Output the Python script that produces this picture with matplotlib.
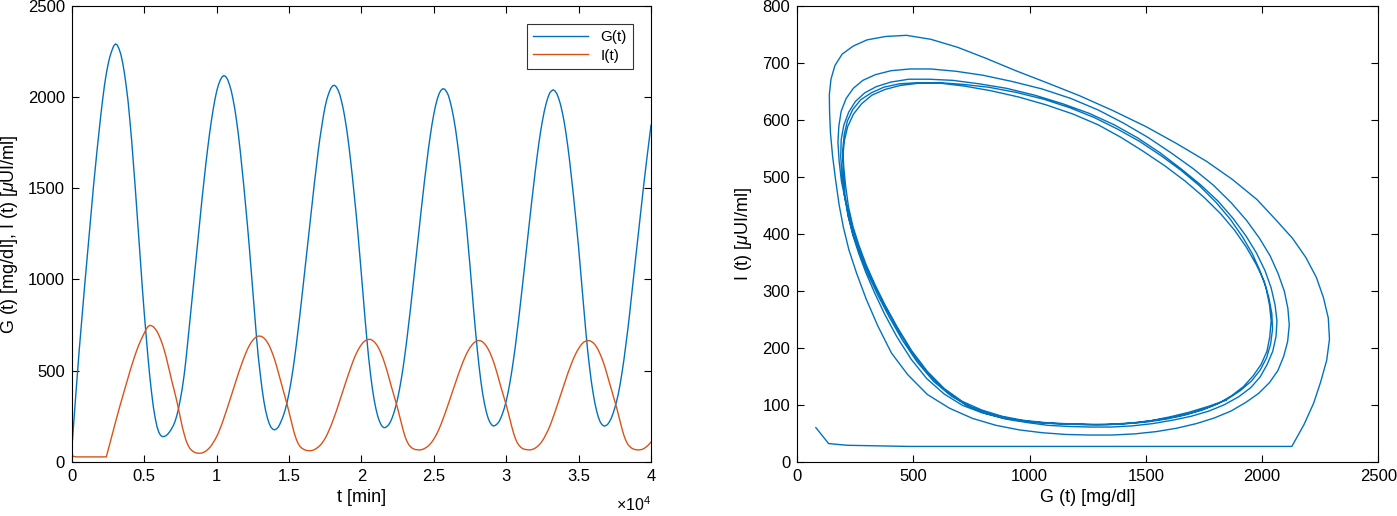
import matplotlib
matplotlib.use('Agg')
import matplotlib.pyplot as plt
from matplotlib.ticker import FuncFormatter

plt.rcParams['font.family'] = ['Liberation Sans', 'DejaVu Sans']
plt.rcParams['mathtext.fontset'] = 'custom'
plt.rcParams['mathtext.rm'] = 'Liberation Sans'
plt.rcParams['mathtext.it'] = 'Liberation Sans:italic'

# time samples [min] and values (one row = 2500 min)
t = [0, 50] + list(range(125, 40001, 125))

G = [80, 135,
     215, 350, 480, 610, 730, 850, 963, 1075, 1188, 1300, 1410, 1520, 1622, 1720, 1815, 1905, 1988, 2065, 2128, 2180,
     2222, 2252, 2278, 2290, 2285, 2264, 2234, 2189, 2131, 2058, 1978, 1873, 1761, 1633, 1500, 1358, 1215, 1073, 940, 810,
     690, 575, 470, 380, 300, 240, 193, 162, 145, 138, 139, 143, 152, 165, 180, 198, 222, 255, 297, 347,
     405, 475, 560, 655, 755, 855, 955, 1055, 1155, 1255, 1355, 1452, 1545, 1633, 1717, 1795, 1866, 1929, 1985, 2032,
     2068, 2093, 2110, 2117, 2111, 2096, 2069, 2035, 1989, 1934, 1868, 1791, 1704, 1608, 1509, 1404, 1295, 1179, 1053, 925,
     799, 682, 574, 486, 404, 336, 282, 241, 210, 189, 179, 175, 180, 190, 209, 232, 258, 290, 331, 379,
     434, 496, 566, 642, 723, 808, 896, 987, 1078, 1169, 1260, 1350, 1441, 1529, 1615, 1696, 1771, 1837, 1899, 1951,
     1992, 2022, 2046, 2060, 2064, 2056, 2039, 2013, 1976, 1931, 1875, 1811, 1735, 1651, 1561, 1465, 1364, 1257, 1142, 1022,
     901, 782, 670, 568, 479, 403, 340, 290, 250, 221, 200, 189, 187, 193, 203, 219, 242, 271, 306, 347,
     397, 453, 516, 587, 664, 747, 832, 921, 1012, 1105, 1197, 1288, 1379, 1468, 1555, 1637, 1715, 1786, 1851, 1907,
     1955, 1992, 2020, 2037, 2045, 2042, 2029, 2009, 1975, 1933, 1882, 1822, 1750, 1670, 1582, 1487, 1393, 1295, 1186, 1071,
     951, 831, 719, 616, 522, 440, 372, 318, 273, 239, 216, 202, 196, 200, 208, 220, 240, 266, 296, 334,
     379, 432, 492, 559, 631, 710, 793, 880, 969, 1060, 1151, 1241, 1331, 1420, 1507, 1589, 1669, 1744, 1811, 1869,
     1920, 1962, 1996, 2021, 2033, 2039, 2032, 2017, 1991, 1958, 1915, 1864, 1802, 1731, 1652, 1565, 1473, 1376, 1277, 1173,
     1060, 941, 823, 712, 610, 522, 442, 377, 321, 277, 242, 217, 203, 196, 198, 205, 219, 238, 264, 295,
     332, 376, 429, 490, 557, 632, 711, 795, 885, 978, 1070, 1161, 1253, 1344, 1434, 1520, 1605, 1686, 1767, 1845]

I = [60, 32,
     29, 28, 27, 27, 27, 27, 27, 27, 27, 27, 27, 27, 27, 27, 27, 27, 27, 27, 27, 65,
     103, 140, 178, 215, 252, 288, 323, 358, 392, 425, 460, 495, 527, 558, 588, 616, 642, 665, 686, 708,
     727, 741, 748, 746, 740, 729, 715, 695, 671, 644, 613, 576, 536, 494, 451, 412, 372, 331, 285, 238,
     191, 153, 118, 94, 76, 64, 56, 51, 48, 47, 47, 49, 53, 59, 67, 77, 89, 104, 120, 139,
     160, 185, 211, 240, 269, 299, 330, 361, 392, 423, 454, 485, 514, 542, 569, 594, 617, 637, 654, 667,
     678, 685, 689, 689, 686, 679, 669, 655, 637, 615, 589, 561, 528, 492, 455, 418, 384, 348, 311, 272,
     231, 190, 153, 123, 100, 85, 75, 69, 64, 62, 61, 61, 63, 67, 73, 80, 89, 100, 114, 130,
     149, 171, 194, 220, 247, 275, 305, 335, 366, 396, 427, 457, 486, 514, 542, 568, 591, 611, 628, 643,
     655, 663, 669, 671, 671, 666, 658, 647, 632, 613, 590, 565, 535, 503, 467, 430, 396, 363, 328, 292,
     253, 213, 175, 141, 115, 96, 84, 75, 70, 67, 66, 65, 66, 69, 74, 80, 88, 98, 110, 125,
     142, 161, 183, 207, 233, 260, 288, 317, 346, 376, 406, 435, 464, 492, 519, 545, 569, 591, 610, 626,
     640, 651, 659, 664, 665, 663, 657, 647, 635, 618, 598, 574, 548, 517, 484, 448, 412, 379, 346, 311,
     274, 235, 195, 159, 129, 106, 91, 80, 73, 69, 67, 66, 65, 67, 70, 75, 82, 91, 102, 116,
     132, 151, 171, 194, 219, 247, 275, 305, 335, 365, 395, 425, 455, 484, 511, 537, 562, 584, 604, 621,
     636, 648, 657, 662, 665, 664, 660, 653, 643, 628, 610, 588, 564, 536, 504, 469, 433, 399, 366, 332,
     297, 259, 219, 180, 146, 119, 99, 86, 77, 71, 68, 66, 65, 66, 68, 72, 79, 87, 97, 108]

blue = '#0072BD'
orange = '#D95319'

fig = plt.figure(figsize=(13.97, 5.16), dpi=100)
ax1 = fig.add_axes([0.0515, 0.105, 0.4145, 0.884])
ax2 = fig.add_axes([0.5707, 0.105, 0.4159, 0.884])

for ax in (ax1, ax2):
    ax.tick_params(direction='in', top=True, right=True, length=5, width=0.8,
                   labelsize=12, colors='black', pad=5)
    for s in ax.spines.values():
        s.set_linewidth(0.8)

# left: time series
ax1.plot(t, G, color=blue, lw=1.0, label='G(t)')
ax1.plot(t, I, color=orange, lw=1.0, label='I(t)')
ax1.set_xlim(0, 40000)
ax1.set_ylim(0, 2500)
ax1.set_xticks(range(0, 40001, 5000))
ax1.set_yticks(range(0, 2501, 500))
ax1.xaxis.set_major_formatter(FuncFormatter(lambda x, p: f'{x/1e4:g}'))
ax1.set_xlabel('t [min]', fontsize=13, labelpad=4)
ax1.set_ylabel(r'G (t) [mg/dl], I (t) [$\mathit{\mu}$UI/ml]', fontsize=13, labelpad=6)
fig.text(651 / 1397, 2 / 516, r'$\times10^{4}$', ha='right', va='bottom', fontsize=11.5)
leg = ax1.legend(loc='upper right', fontsize=11, frameon=True, fancybox=False,
                 edgecolor='black', borderaxespad=1.2, handlelength=3.6,
                 labelspacing=0.3, borderpad=0.4)
leg.get_frame().set_linewidth(0.8)

# right: phase plane
ax2.plot(G, I, color=blue, lw=1.0)
ax2.set_xlim(0, 2500)
ax2.set_ylim(0, 800)
ax2.set_xticks(range(0, 2501, 500))
ax2.set_yticks(range(0, 801, 100))
ax2.set_xlabel('G (t) [mg/dl]', fontsize=13, labelpad=4)
ax2.set_ylabel(r'I (t) [$\mathit{\mu}$UI/ml]', fontsize=13, labelpad=6)

fig.savefig('out.png', dpi=100)
